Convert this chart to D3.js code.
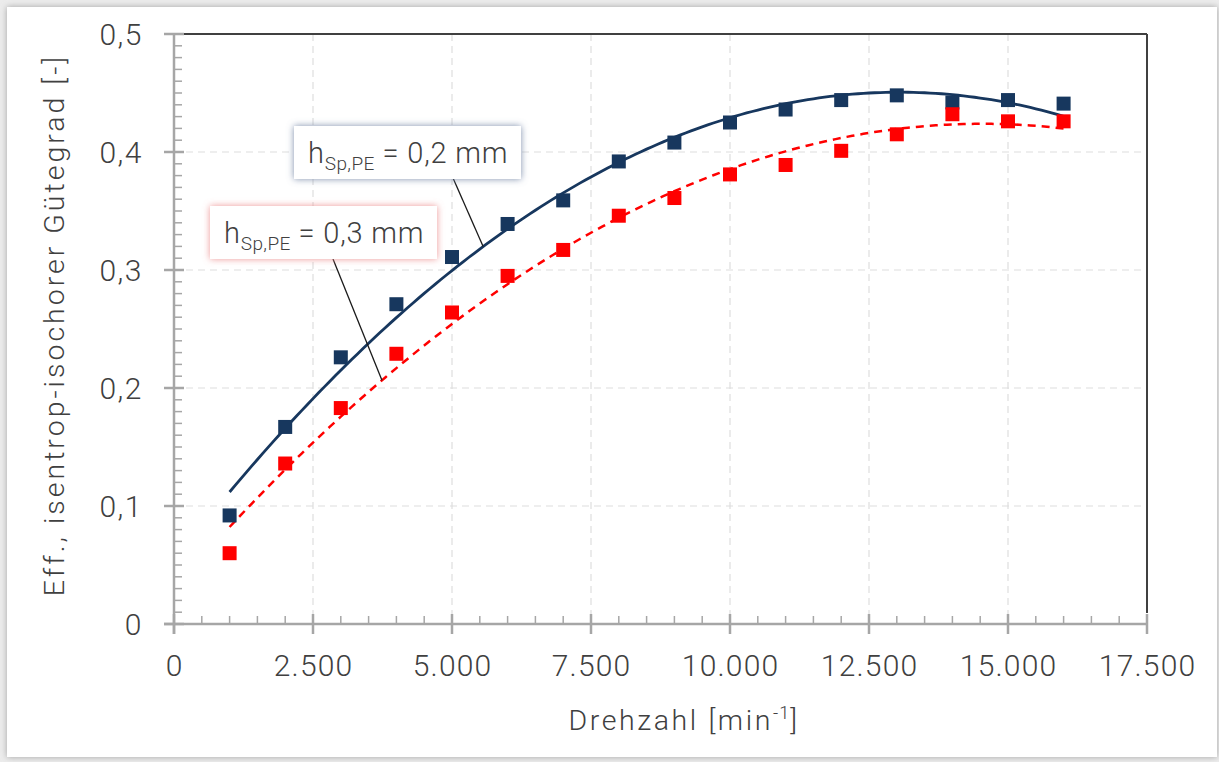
<!DOCTYPE html>
<html>
<head>
<meta charset="utf-8">
<script src="https://cdn.jsdelivr.net/npm/d3@7"></script>
<style>
  html, body { margin: 0; padding: 0; background: #ffffff; }
  svg { display: block; }
  text { font-family: Roboto, "Noto Sans", sans-serif; font-weight: 300; fill: #404040; }
</style>
</head>
<body>
<svg id="chart" width="1219" height="762"></svg>
<script>
// Speed (rpm) for each measurement
const drehzahl = [1000, 2000, 3000, 4000, 5000, 6000, 7000, 8000,
                  9000, 10000, 11000, 12000, 13000, 14000, 15000, 16000];
// Efficiency for gap height 0.2 mm
const guete02 = [0.092, 0.167, 0.226, 0.271, 0.311, 0.339, 0.359, 0.392,
                 0.408, 0.425, 0.436, 0.444, 0.448, 0.442, 0.444, 0.441];
// Efficiency for gap height 0.3 mm
const guete03 = [0.060, 0.136, 0.183, 0.229, 0.264, 0.295, 0.317, 0.346,
                 0.361, 0.381, 0.389, 0.401, 0.415, 0.432, 0.426, 0.426];

const xTicks = [0, 2500, 5000, 7500, 10000, 12500, 15000, 17500];
const yTicks = [0, 0.1, 0.2, 0.3, 0.4, 0.5];
const serienNamen = ["0,2 mm", "0,3 mm"];

const svg = d3.select("#chart");
const W = 1219, H = 762;
const pLeft = 174, pRight = 1147, pTop = 34, pBottom = 624;

const x = d3.scaleLinear().domain([0, 17500]).range([pLeft, pRight]);
const y = d3.scaleLinear().domain([0, 0.5]).range([pBottom, pTop]);

const fmtX = d3.formatLocale({decimal: ",", thousands: ".", grouping: [3], currency: ["", "€"]}).format(",d");
const fmtY = v => v === 0 ? "0" : d3.format(".1f")(v).replace(".", ",");

// ---- page card with soft edge shadow ----
const defs = svg.append("defs");
const card = defs.append("filter").attr("id", "card").attr("x", "-5%").attr("y", "-5%").attr("width", "110%").attr("height", "110%");
card.append("feDropShadow").attr("dx", 0).attr("dy", 0).attr("stdDeviation", 3).attr("flood-color", "#9a9a9a").attr("flood-opacity", 0.9);
svg.append("rect").attr("width", W).attr("height", H).attr("fill", "#ececec");
svg.append("rect").attr("x", 7).attr("y", 7).attr("width", 1210).attr("height", 750)
  .attr("fill", "#ffffff").attr("filter", "url(#card)");

// glow filters for the annotation boxes
function glow(id, color) {
  const f = defs.append("filter").attr("id", id).attr("x", "-20%").attr("y", "-40%").attr("width", "140%").attr("height", "180%");
  f.append("feDropShadow").attr("dx", 0).attr("dy", 0).attr("stdDeviation", 3.5).attr("flood-color", color).attr("flood-opacity", 0.9);
}
glow("glowBlue", "#6f83a3");
glow("glowRed", "#ec8a8a");

// ---- gridlines ----
const grid = svg.append("g").attr("stroke", "#dedede").attr("stroke-width", 1.2).attr("stroke-dasharray", "7,5");
grid.selectAll("line.v").data(xTicks.filter(t => t > 0 && t < 17500)).enter().append("line")
  .attr("x1", d => x(d)).attr("x2", d => x(d)).attr("y1", pTop).attr("y2", pBottom);
grid.selectAll("line.h").data(yTicks.filter(t => t > 0 && t < 0.5)).enter().append("line")
  .attr("x1", pLeft).attr("x2", pRight).attr("y1", d => y(d)).attr("y2", d => y(d));

// ---- frame (top and right) ----
svg.append("line").attr("x1", pLeft + 10).attr("x2", pRight).attr("y1", pTop).attr("y2", pTop)
  .attr("stroke", "#404040").attr("stroke-width", 2);
svg.append("line").attr("x1", pRight).attr("x2", pRight).attr("y1", pTop).attr("y2", pBottom - 11)
  .attr("stroke", "#404040").attr("stroke-width", 2);

// ---- axes ----
const axisColor = "#a6a6a6";
const yAxis = svg.append("g").attr("stroke", axisColor);
yAxis.append("line").attr("x1", pLeft).attr("x2", pLeft).attr("y1", pTop).attr("y2", pBottom + 10).attr("stroke-width", 2.5);
yAxis.selectAll("line.minor").data(d3.range(0, 51).map(i => i / 100)).enter().append("line")
  .attr("x1", pLeft).attr("x2", pLeft + 8).attr("y1", d => y(d)).attr("y2", d => y(d)).attr("stroke-width", 1.5);
yAxis.selectAll("line.major").data(yTicks).enter().append("line")
  .attr("x1", pLeft - 10).attr("x2", pLeft + 10).attr("y1", d => y(d)).attr("y2", d => y(d)).attr("stroke-width", 2.5);

const xAxis = svg.append("g").attr("stroke", axisColor);
xAxis.append("line").attr("x1", pLeft - 10).attr("x2", pRight).attr("y1", pBottom).attr("y2", pBottom).attr("stroke-width", 2.5);
xAxis.selectAll("line.minor").data(d3.range(0, 17501, 500)).enter().append("line")
  .attr("x1", d => x(d)).attr("x2", d => x(d)).attr("y1", pBottom - 8).attr("y2", pBottom).attr("stroke-width", 1.5);
xAxis.selectAll("line.major").data(xTicks).enter().append("line")
  .attr("x1", d => x(d)).attr("x2", d => x(d)).attr("y1", pBottom - 10).attr("y2", pBottom + 10).attr("stroke-width", 2.5);

svg.append("g").selectAll("text").data(yTicks).enter().append("text")
  .attr("x", 143).attr("y", d => y(d)).attr("dy", "0.36em").attr("text-anchor", "end")
  .style("font-size", "30px").style("letter-spacing", "1.5px").text(fmtY);
svg.append("g").selectAll("text").data(xTicks).enter().append("text")
  .attr("x", d => x(d) + 0.6).attr("y", 676).attr("text-anchor", "middle")
  .style("font-size", "30px").style("letter-spacing", "1.2px").text(fmtX);

// axis titles
svg.append("text").attr("transform", "translate(64,325) rotate(-90)").attr("text-anchor", "middle")
  .style("font-size", "28.5px").style("letter-spacing", "3px").text("Eff., isentrop-isochorer Gütegrad [-]");
const xt = svg.append("text").attr("x", 684).attr("y", 730).attr("text-anchor", "middle")
  .style("font-size", "28.5px").style("letter-spacing", "2.6px");
xt.append("tspan").text("Drehzahl [min");
xt.append("tspan").attr("dy", -11).style("font-size", "18px").style("letter-spacing", "1px").text("-1");
xt.append("tspan").attr("dy", 11).text("]");

// ---- second-order polynomial trend lines (least squares) ----
function polyFit2(xs, ys) {
  const s = xs.map(v => v / 1000);
  let S = [[0,0,0],[0,0,0],[0,0,0]], b = [0,0,0];
  s.forEach((xi, i) => {
    const p = [1, xi, xi * xi];
    for (let r = 0; r < 3; r++) { b[r] += p[r] * ys[i]; for (let c = 0; c < 3; c++) S[r][c] += p[r] * p[c]; }
  });
  for (let k = 0; k < 3; k++) {
    for (let r = k + 1; r < 3; r++) {
      const f = S[r][k] / S[k][k];
      for (let c = k; c < 3; c++) S[r][c] -= f * S[k][c];
      b[r] -= f * b[k];
    }
  }
  const a = [0,0,0];
  for (let r = 2; r >= 0; r--) {
    let v = b[r];
    for (let c = r + 1; c < 3; c++) v -= S[r][c] * a[c];
    a[r] = v / S[r][r];
  }
  return xv => { const t = xv / 1000; return a[0] + a[1] * t + a[2] * t * t; };
}
const fit02 = polyFit2(drehzahl, guete02);
const fit03 = polyFit2(drehzahl, guete03);
const xs = d3.range(drehzahl[0], drehzahl[drehzahl.length - 1] + 1, 100);
const line = f => d3.line().x(d => x(d)).y(d => y(f(d)));

const blue = "#17375e", red = "#ff0000";
svg.append("path").datum(xs).attr("d", line(fit03)).attr("fill", "none")
  .attr("stroke", red).attr("stroke-width", 2.5).attr("stroke-dasharray", "8,6");
svg.append("path").datum(xs).attr("d", line(fit02)).attr("fill", "none")
  .attr("stroke", blue).attr("stroke-width", 2.8);

// ---- markers ----
const sz = 14;
svg.append("g").selectAll("rect").data(drehzahl).enter().append("rect")
  .attr("x", d => x(d) - sz / 2).attr("y", (d, i) => y(guete02[i]) - sz / 2)
  .attr("width", sz).attr("height", sz).attr("fill", blue);
svg.append("g").selectAll("rect").data(drehzahl).enter().append("rect")
  .attr("x", d => x(d) - sz / 2).attr("y", (d, i) => y(guete03[i]) - sz / 2)
  .attr("width", sz).attr("height", sz).attr("fill", red);

// ---- annotation boxes with leader lines ----
const notes = [
  { name: serienNamen[0], box: [294, 126, 227, 53], from: [453, 178], at: 5560, fit: fit02, glow: "glowBlue" },
  { name: serienNamen[1], box: [210, 206, 227, 53], from: [333, 259], at: 3740, fit: fit03, glow: "glowRed" }
];
notes.forEach(n => {
  svg.append("line").attr("x1", n.from[0]).attr("y1", n.from[1])
    .attr("x2", x(n.at)).attr("y2", y(n.fit(n.at)))
    .attr("stroke", "#1a1a1a").attr("stroke-width", 1.3);
  const g = svg.append("g");
  g.append("rect").attr("x", n.box[0]).attr("y", n.box[1]).attr("width", n.box[2]).attr("height", n.box[3])
    .attr("fill", "#ffffff").attr("filter", `url(#${n.glow})`);
  const t = g.append("text").attr("x", n.box[0] + 14).attr("y", n.box[1] + 37)
    .style("font-size", "29px").style("letter-spacing", "0.8px");
  t.append("tspan").text("h");
  t.append("tspan").attr("dy", 7).style("font-size", "19px").style("letter-spacing", "0.4px").text("Sp,PE");
  t.append("tspan").attr("dy", -7).text(" = " + n.name);
});
</script>
</body>
</html>
